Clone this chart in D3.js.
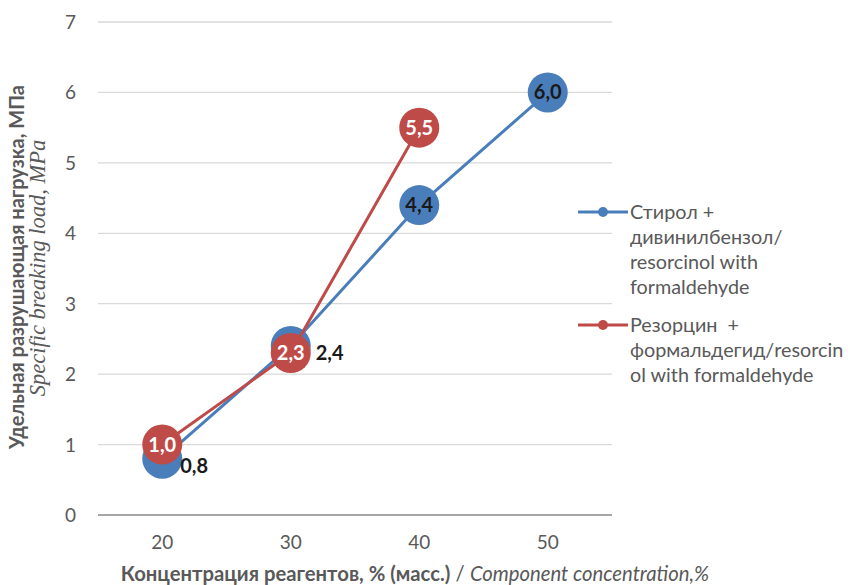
<html>
<meta charset="utf-8">
<script src="https://cdn.jsdelivr.net/npm/d3@7"></script>
<style>
body{ margin:0; background:white; }
text{ font-family: Lato, "Open Sans", "Liberation Sans", sans-serif; white-space: pre; }
</style>
<body>
<div id="chartDiv"></div>
<script>
var categories = ["20", "30", "40", "50"];
var blueValues = [0.8, 2.4, 4.4, 6.0];
var redValues = [1.0, 2.3, 5.5];
var yTicks = [0, 1, 2, 3, 4, 5, 6, 7];
var blueLegend = ["Стирол +", "дивинилбензол/", "resorcinol with", "formaldehyde"];
var redLegend = ["Резорцин  +", "формальдегид/resorcin", "ol with formaldehyde"];

var blueCol = "#4a7ebb", redCol = "#be4b48";

var svg = d3.select("#chartDiv").append("svg").attr("width", 850).attr("height", 585);

var x = d3.scaleBand().domain(categories).range([98, 612]);
var y = d3.scaleLinear().domain([0, 7]).range([515, 22]);

// gridlines
svg.selectAll(".grid").data(yTicks.slice(1)).enter()
  .append("line")
  .attr("x1", 98).attr("x2", 612)
  .attr("y1", function(d){ return y(d); })
  .attr("y2", function(d){ return y(d); })
  .attr("stroke", "#d9d9d9").attr("stroke-width", 1.3);

// y tick labels
svg.selectAll(".ytick").data(yTicks).enter()
  .append("text")
  .attr("x", 76).attr("y", function(d){ return y(d) + 7; })
  .attr("text-anchor", "end")
  .attr("font-size", 19).attr("fill", "#595959")
  .text(function(d){ return d; });

// x axis line
svg.append("line").attr("x1", 98).attr("x2", 612).attr("y1", y(0)).attr("y2", y(0))
  .attr("stroke", "#a6a6a6").attr("stroke-width", 2.2);

svg.selectAll(".xtick").data(categories).enter()
  .append("text")
  .attr("x", function(d){ return x(d) + x.bandwidth() / 2; })
  .attr("y", 549)
  .attr("text-anchor", "middle")
  .attr("font-size", 19).attr("fill", "#595959")
  .text(function(d){ return d; });

function cx(i){ return x(categories[i]) + x.bandwidth() / 2; }

var line = d3.line().x(function(d, i){ return cx(i); }).y(function(d){ return y(d); });

svg.append("path").datum(blueValues).attr("d", line)
  .attr("fill", "none").attr("stroke", blueCol).attr("stroke-width", 3);
svg.selectAll(".bdot").data(blueValues).enter()
  .append("circle")
  .attr("cx", function(d, i){ return cx(i); })
  .attr("cy", function(d){ return y(d); })
  .attr("r", 20).attr("fill", blueCol);

svg.append("path").datum(redValues).attr("d", line)
  .attr("fill", "none").attr("stroke", redCol).attr("stroke-width", 3);
svg.selectAll(".rdot").data(redValues).enter()
  .append("circle")
  .attr("cx", function(d, i){ return cx(i); })
  .attr("cy", function(d){ return y(d); })
  .attr("r", 20).attr("fill", redCol);

function fmt(v){ return v.toFixed(1).replace(".", ","); }

// blue labels: first two to the right, rest centered
svg.selectAll(".blab").data(blueValues).enter()
  .append("text")
  .attr("x", function(d, i){ return i == 0 ? cx(i) + 18 : (i == 1 ? cx(i) + 25 : cx(i)); })
  .attr("y", function(d, i){ return i < 2 ? y(d) + 14 : y(d) + 7; })
  .attr("text-anchor", function(d, i){ return i < 2 ? "start" : "middle"; })
  .attr("font-size", 20).attr("font-weight", "bold").attr("fill", "#1a1a1a")
  .text(fmt);

svg.selectAll(".rlab").data(redValues).enter()
  .append("text")
  .attr("x", function(d, i){ return cx(i); })
  .attr("y", function(d){ return y(d) + 7; })
  .attr("text-anchor", "middle")
  .attr("font-size", 20).attr("font-weight", "bold").attr("fill", "white")
  .text(fmt);

// legend
function legend(ly, col, lines){
  svg.append("line").attr("x1", 578).attr("x2", 628).attr("y1", ly).attr("y2", ly)
    .attr("stroke", col).attr("stroke-width", 3);
  svg.append("circle").attr("cx", 603).attr("cy", ly).attr("r", 5).attr("fill", col);
  svg.append("text").attr("font-size", 19.8).attr("fill", "#595959")
    .selectAll("tspan").data(lines).enter()
    .append("tspan")
    .attr("x", 630)
    .attr("y", function(d, i){ return ly + 7 + i * 25; })
    .text(function(d){ return d; });
}
legend(212, blueCol, blueLegend);
legend(325, redCol, redLegend);

// y axis titles
svg.append("text")
  .attr("transform", "translate(24,267) rotate(-90)")
  .attr("text-anchor", "middle")
  .attr("font-size", 20).attr("font-weight", "bold").attr("fill", "#595959")
  .text("Удельная разрушающая нагрузка, МПа");
svg.append("text")
  .attr("transform", "translate(45,268) rotate(-90)")
  .attr("text-anchor", "middle")
  .attr("font-size", 22.5).attr("font-style", "italic").attr("fill", "#595959")
  .style("font-family", "'Liberation Serif', 'DejaVu Serif', serif")
  .text("Specific breaking load, MPa");

// x axis title
var xt = svg.append("text")
  .attr("x", 415).attr("y", 581)
  .attr("text-anchor", "middle")
  .attr("font-size", 20.3).attr("fill", "#595959");
xt.append("tspan").attr("font-weight", "bold").text("Концентрация реагентов, % (масс.)");
xt.append("tspan").text(" / ");
xt.append("tspan").attr("font-style", "italic").text("Component concentration,%");
</script>
</body>
</html>
